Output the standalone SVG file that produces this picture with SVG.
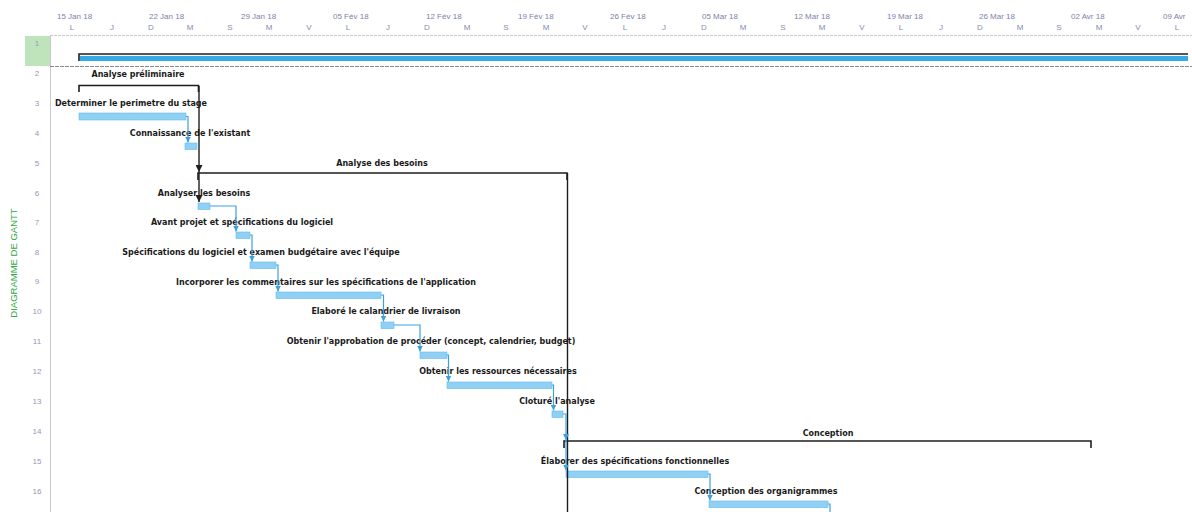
<svg xmlns="http://www.w3.org/2000/svg" width="1192" height="512" viewBox="0 0 1192 512">
  <style>
    .hdr { font-family: "Liberation Sans", Arial, sans-serif; font-size: 8px; fill: #7d81aa; }
    .day { font-family: "Liberation Sans", Arial, sans-serif; font-size: 8px; fill: #868aaf; text-anchor: middle; }
    .num { font-family: "Liberation Sans", Arial, sans-serif; font-size: 8px; fill: #9497bb; text-anchor: middle; }
    .lbl { font-family: "DejaVu Sans", Verdana, sans-serif; font-size: 8px; font-weight: bold; fill: #1a1a1a; text-anchor: middle; }
    .side { font-family: "Liberation Sans", Arial, sans-serif; font-size: 9.5px; fill: #2fa844; text-anchor: middle; }
    .grid { stroke: #c9c9d2; stroke-width: 1; fill: none; }
    .task { fill: #8fd0f4; stroke: #62bbec; stroke-width: 0.6; }
    .sum { stroke: #1e1e1e; stroke-width: 1.6; fill: none; }
    .link { stroke: #3c9fe2; stroke-width: 1.2; fill: none; marker-end: url(#ab); }
    .blink { stroke: #1e1e1e; stroke-width: 1.4; fill: none; marker-end: url(#ak); }
  </style>
  <defs>
    <marker id="ab" viewBox="0 0 6 6" refX="6" refY="3" markerWidth="6" markerHeight="6" orient="auto" markerUnits="userSpaceOnUse">
      <path d="M0,0 L6,3 L0,6 z" fill="#3c9fe2"/>
    </marker>
    <marker id="ak" viewBox="0 0 6 6" refX="6" refY="3" markerWidth="7" markerHeight="7" orient="auto" markerUnits="userSpaceOnUse">
      <path d="M0,0 L6,3 L0,6 z" fill="#1e1e1e"/>
    </marker>
  </defs>

  <rect width="1192" height="512" fill="#ffffff"/>

  <!-- timescale -->
  <g id="timescale">
    <text class="hdr" x="57" y="19">15 Jan 18</text>
    <text class="hdr" x="149" y="19">22 Jan 18</text>
    <text class="hdr" x="241" y="19">29 Jan 18</text>
    <text class="hdr" x="333" y="19">05 Fév 18</text>
    <text class="hdr" x="426" y="19">12 Fév 18</text>
    <text class="hdr" x="518" y="19">19 Fév 18</text>
    <text class="hdr" x="610" y="19">26 Fév 18</text>
    <text class="hdr" x="702" y="19">05 Mar 18</text>
    <text class="hdr" x="794" y="19">12 Mar 18</text>
    <text class="hdr" x="887" y="19">19 Mar 18</text>
    <text class="hdr" x="979" y="19">26 Mar 18</text>
    <text class="hdr" x="1071" y="19">02 Avr 18</text>
    <text class="hdr" x="1163" y="19">09 Avr</text>
    <text class="day" x="72" y="30">L</text>
    <text class="day" x="112" y="30">J</text>
    <text class="day" x="151" y="30">D</text>
    <text class="day" x="190" y="30">M</text>
    <text class="day" x="230" y="30">S</text>
    <text class="day" x="269" y="30">M</text>
    <text class="day" x="309" y="30">V</text>
    <text class="day" x="348" y="30">L</text>
    <text class="day" x="388" y="30">J</text>
    <text class="day" x="427" y="30">D</text>
    <text class="day" x="467" y="30">M</text>
    <text class="day" x="506" y="30">S</text>
    <text class="day" x="546" y="30">M</text>
    <text class="day" x="585" y="30">V</text>
    <text class="day" x="625" y="30">L</text>
    <text class="day" x="664" y="30">J</text>
    <text class="day" x="704" y="30">D</text>
    <text class="day" x="743" y="30">M</text>
    <text class="day" x="783" y="30">S</text>
    <text class="day" x="822" y="30">M</text>
    <text class="day" x="862" y="30">V</text>
    <text class="day" x="901" y="30">L</text>
    <text class="day" x="941" y="30">J</text>
    <text class="day" x="980" y="30">D</text>
    <text class="day" x="1020" y="30">M</text>
    <text class="day" x="1059" y="30">S</text>
    <text class="day" x="1099" y="30">M</text>
    <text class="day" x="1138" y="30">V</text>
    <text class="day" x="1177" y="30">L</text>
    <line class="grid" x1="50" y1="35.5" x2="1192" y2="35.5" stroke-dasharray="3 1"/>
  </g>

  <!-- row headers -->
  <g id="rows">
    <rect x="25" y="36" width="25" height="30" fill="#bfe4bb"/>
    <line class="grid" x1="50.5" y1="36" x2="50.5" y2="512" stroke="#e2e2e8"/>
    <line x1="50" y1="66.5" x2="1192" y2="66.5" stroke="#8a8a8a" stroke-width="1" stroke-dasharray="4 1"/>
    <text class="num" x="37" y="46" fill="#6f7398">1</text>
    <text class="num" x="37" y="76">2</text>
    <text class="num" x="37" y="106">3</text>
    <text class="num" x="37" y="136">4</text>
    <text class="num" x="37" y="166">5</text>
    <text class="num" x="37" y="196">6</text>
    <text class="num" x="37" y="225">7</text>
    <text class="num" x="37" y="255">8</text>
    <text class="num" x="37" y="284">9</text>
    <text class="num" x="37" y="314">10</text>
    <text class="num" x="37" y="344">11</text>
    <text class="num" x="37" y="374">12</text>
    <text class="num" x="37" y="404">13</text>
    <text class="num" x="37" y="434">14</text>
    <text class="num" x="37" y="464">15</text>
    <text class="num" x="37" y="494">16</text>
    <text class="side" transform="translate(17,263) rotate(-90)">DIAGRAMME DE GANTT</text>
  </g>

  <!-- project summary -->
  <g id="project">
    <rect x="80" y="56" width="1108" height="5" fill="#37a9e6"/>
    <path class="sum" d="M79,61 V54 H1188"/>
  </g>

  <g id="analyse-preliminaire">
    <text class="lbl" x="138" y="77">Analyse préliminaire</text>
    <path class="sum" d="M79,92 V85.5 H198.5 V92"/>
  </g>

  <g id="determiner-perimetre">
    <text class="lbl" x="131" y="106">Determiner le perimetre du stage</text>
    <rect class="task" x="79" y="113" width="107" height="7"/>
  </g>

  <g id="connaissance-existant">
    <text class="lbl" x="190" y="136">Connaissance de l'existant</text>
    <rect class="task" x="185" y="143" width="12" height="6.5"/>
  </g>

  <g id="analyse-besoins">
    <text class="lbl" x="382" y="166">Analyse des besoins</text>
    <path class="sum" d="M198,180 V173 H567 V180"/>
  </g>

  <g id="analyser-besoins">
    <text class="lbl" x="204" y="196">Analyser les besoins</text>
    <rect class="task" x="198" y="203" width="12" height="6.5"/>
  </g>

  <g id="avant-projet">
    <text class="lbl" x="242" y="225">Avant projet et spécifications du logiciel</text>
    <rect class="task" x="236" y="232" width="14" height="6.5"/>
  </g>

  <g id="specifications-examen">
    <text class="lbl" x="261" y="255">Spécifications du logiciel et examen budgétaire avec l'équipe</text>
    <rect class="task" x="250" y="262" width="26" height="6.5"/>
  </g>

  <g id="incorporer-commentaires">
    <text class="lbl" x="326" y="285">Incorporer les commentaires sur les spécifications de l'application</text>
    <rect class="task" x="276" y="292" width="105" height="6.5"/>
  </g>

  <g id="calandrier-livraison">
    <text class="lbl" x="386" y="314">Elaboré le calandrier de livraison</text>
    <rect class="task" x="381" y="322" width="13" height="6.5"/>
  </g>

  <g id="approbation">
    <text class="lbl" x="431" y="344">Obtenir l'approbation de procéder (concept, calendrier, budget)</text>
    <rect class="task" x="420" y="352" width="27" height="6.5"/>
  </g>

  <g id="ressources">
    <text class="lbl" x="498" y="374">Obtenir les ressources nécessaires</text>
    <rect class="task" x="447" y="382" width="105" height="6.5"/>
  </g>

  <g id="cloture-analyse">
    <text class="lbl" x="557" y="404">Cloturé l'analyse</text>
    <rect class="task" x="552" y="411" width="11" height="6.5"/>
  </g>

  <g id="conception">
    <text class="lbl" x="828" y="436">Conception</text>
    <path class="sum" d="M564,448 V441 H1091 V448"/>
  </g>

  <g id="specifications-fonctionnelles">
    <text class="lbl" x="635" y="464">Élaborer des spécifications fonctionnelles</text>
    <rect class="task" x="566" y="471" width="142" height="6.5"/>
  </g>

  <g id="organigrammes">
    <text class="lbl" x="766" y="494">Conception des organigrammes</text>
    <rect class="task" x="709" y="501" width="119" height="6.5"/>
  </g>

  <!-- dependency links -->
  <g id="connectors">
    <path class="blink" d="M199,86 V172"/>
    <path class="blink" d="M199,172 V202"/>
    <path d="M567.5,173 V512" stroke="#1e1e1e" stroke-width="1.4" fill="none"/>
    <path class="link" d="M186,116.5 H188 V142.5"/>
    <path class="link" d="M210,206 H236 V231.5"/>
    <path class="link" d="M250,235 H252 V261.5"/>
    <path class="link" d="M276,265 H278 V291.5"/>
    <path class="link" d="M381,295 H383.5 V321.5"/>
    <path class="link" d="M394,325 H420 V351.5"/>
    <path class="link" d="M447,355 H448.5 V381.5"/>
    <path class="link" d="M552,385 H553.5 V410.5"/>
    <path class="link" d="M563,414 H566 V440"/>
    <path class="link" d="M566,440 V470.5"/>
    <path class="link" d="M708,474 H710 V500.5"/>
    <path d="M828,504 H830 V512" stroke="#3c9fe2" stroke-width="1.2" fill="none"/>
  </g>
</svg>
